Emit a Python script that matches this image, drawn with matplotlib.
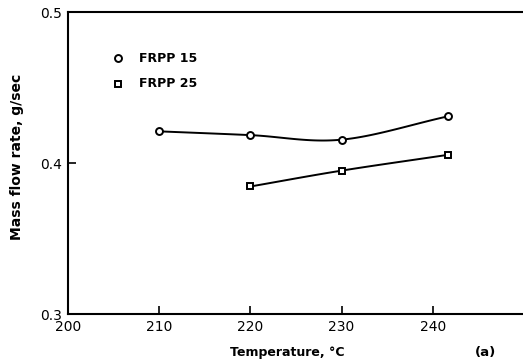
import numpy as np
import matplotlib.pyplot as plt

# Mass flow rate vs. barrel temperature
temp_15 = [210, 220, 230, 241.7]
flow_15 = [0.421, 0.4185, 0.4155, 0.431]

temp_25 = [220, 230, 241.7]
flow_25 = [0.3845, 0.395, 0.4055]

xticks = [200, 210, 220, 230, 240]
yticks = [0.3, 0.4, 0.5]

plt.rcParams["font.family"] = "DejaVu Sans"

fig = plt.figure(figsize=(5.23, 3.64), dpi=100)
ax = fig.add_axes([0.130, 0.137, 0.872, 0.830])


def smooth(x, y, n=40):
    # Catmull-Rom curve through the measured points
    p = np.column_stack([x, y]).astype(float)
    p = np.vstack([2 * p[0] - p[1], p, 2 * p[-1] - p[-2]])
    t = np.linspace(0, 1, n)[:, None]
    segs = []
    for i in range(1, len(p) - 2):
        p0, p1, p2, p3 = p[i - 1], p[i], p[i + 1], p[i + 2]
        segs.append(0.5 * (2 * p1 + (-p0 + p2) * t
                           + (2 * p0 - 5 * p1 + 4 * p2 - p3) * t ** 2
                           + (-p0 + 3 * p1 - 3 * p2 + p3) * t ** 3))
    c = np.vstack(segs)
    return c[:, 0], c[:, 1]


for t, f, m in [(temp_15, flow_15, "o"), (temp_25, flow_25, "s")]:
    xs, ys = smooth(t, f)
    ax.plot(xs, ys, color="black", lw=1.4, zorder=2)
    ax.plot(t, f, m, ms=5, mfc="white", mec="black", mew=1.4, zorder=3)

# legend drawn as text with markers
ax.plot([205.5], [0.4695], "o", ms=5, mfc="white", mec="black", mew=1.4)
ax.plot([205.5], [0.4525], "s", ms=5, mfc="white", mec="black", mew=1.4)
ax.text(207.8, 0.4695, "FRPP 15", fontsize=9, weight="bold", va="center")
ax.text(207.8, 0.4525, "FRPP 25", fontsize=9, weight="bold", va="center")

ax.set_xlim(200, 250)
ax.set_ylim(0.3, 0.5)
ax.set_xticks(xticks)
ax.set_yticks(yticks)
ax.set_xticklabels([str(v) for v in xticks], fontsize=10)
ax.set_yticklabels(["0.3", "0.4", "0.5"], fontsize=10)
ax.tick_params(direction="in", length=6, width=1.2, pad=4)
ax.spines["right"].set_visible(False)
for s in ["left", "bottom", "top"]:
    ax.spines[s].set_linewidth(1.5)

ax.set_xlabel("Temperature, °C", fontsize=9, weight="bold")
ax.xaxis.set_label_coords(0.48, -0.126)
ax.xaxis.label.set_va("center")
ax.set_ylabel("Mass flow rate, g/sec", fontsize=10, weight="bold")
ax.yaxis.set_label_coords(-0.097, 0.52)
ax.text(245.8, -0.126, "(a)", transform=ax.get_xaxis_transform(), fontsize=9.5,
        weight="bold", ha="center", va="center")

fig.savefig("out.png", dpi=100)
